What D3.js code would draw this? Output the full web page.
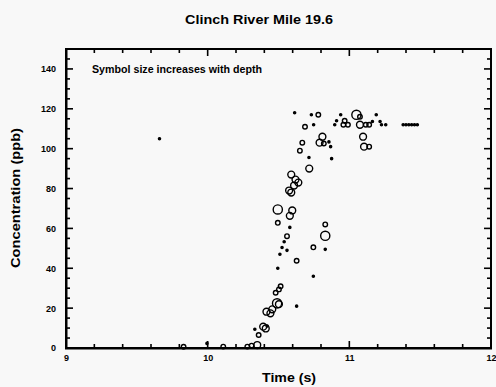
<!DOCTYPE html>
<html>
<head>
<meta charset="utf-8">
<script src="https://cdn.jsdelivr.net/npm/d3@7"></script>
<style>
body { margin: 0; background: #f8f8f8; }
svg { display: block; font-family: "Liberation Sans", Arial, sans-serif; font-weight: bold; }
</style>
</head>
<body>
<script>
// Zeit (s)
var time = [9.66, 9.83, 9.995, 10.11, 10.28, 10.31, 10.35, 10.333, 10.36, 10.392,
  10.41, 10.42, 10.415, 10.456, 10.443, 10.49, 10.503, 10.48, 10.503, 10.515,
  10.495, 10.51, 10.525, 10.54, 10.56, 10.56, 10.58, 10.495, 10.495, 10.597,
  10.58, 10.628, 10.628, 10.746, 10.746, 10.83, 10.83, 10.83, 10.59, 10.62,
  10.64, 10.61, 10.59, 10.575, 10.717, 10.715, 10.651, 10.668, 10.687, 10.748,
  10.614, 10.732, 10.781, 10.81, 10.79, 10.82, 10.856, 10.868, 10.875, 10.939,
  10.91, 10.897, 10.967, 10.958, 10.99, 11.05, 11.075, 11.075, 11.116, 11.14,
  11.163, 11.19, 11.217, 11.227, 11.257, 11.097, 11.104, 11.14,
  11.38, 11.40, 11.42, 11.44, 11.46, 11.48];
// Konzentration (ppb)
var conc = [105, 0.6, 2.3, 0.7, 0.7, 1.2, 1.5, 9.4, 6.5, 10.7,
  9.8, 11, 18.2, 19.4, 17.4, 22.4, 22, 27.7, 29.4, 31,
  40, 47, 50.4, 53.3, 49, 56.1, 60.5, 62.8, 69.5, 69,
  66.3, 43.8, 21, 50.5, 36, 62, 56.3, 49.5, 87, 84.5,
  83, 81.5, 78, 79, 90, 95.6, 99, 103, 111, 112,
  118, 117, 117, 106, 103, 102.6, 103.4, 101, 95, 117,
  114, 112, 114, 112, 112, 117, 116, 112, 112, 112,
  113.6, 117, 113.6, 112, 112, 106, 101, 101,
  112, 112, 112, 112, 112, 112];
// Tiefe (Symbolgroesse, 1 = flach ... 4 = tief)
var depth = [1, 2, 1, 2, 2, 2, 3, 1, 2, 3,
  3, 1, 3, 3, 3, 4, 3, 2, 2, 2,
  1, 1, 1, 1, 1, 2, 1, 2, 4, 3,
  3, 2, 1, 2, 1, 2, 4, 1, 3, 3,
  3, 3, 3, 3, 3, 1, 2, 2, 2, 1,
  1, 1, 2, 3, 3, 2, 1, 1, 1, 1,
  1, 1, 2, 2, 2, 4, 2, 3, 2, 2,
  1, 1, 1, 1, 1, 3, 3, 2,
  1, 1, 1, 1, 1, 1];

var xTicks = [9, 10, 11, 12];
var yTicks = [0, 20, 40, 60, 80, 100, 120, 140];

var margin = {top: 49, right: 5, bottom: 39, left: 66}
, width = 496 - margin.left - margin.right
, height = 387 - margin.top - margin.bottom;

var xScale = d3.scaleLinear().domain([9, 12]).range([0, width]);
var yScale = d3.scaleLinear().domain([0, 150]).range([height, 0]);
var rScale = d3.scaleLinear().domain([1, 4]).range([1.1, 4.6]);

var root = d3.select("body").append("svg")
.attr("width", 496)
.attr("height", 387);

// Titel
root.append("text")
.attr("x", 259).attr("y", 24)
.attr("text-anchor", "middle")
.attr("font-size", 13)
.attr("textLength", 148).attr("lengthAdjust", "spacingAndGlyphs")
.text("Clinch River Mile 19.6");

var svg = root.append("g")
.attr("transform", "translate(" + margin.left + "," + margin.top + ")");

// Beschriftung der Achsen (nur Text)
svg.append("g")
.attr("transform", "translate(0," + height + ")")
.call(d3.axisBottom(xScale).tickValues(xTicks).tickSize(0).tickPadding(7).tickFormat(d3.format("d")));
svg.append("g")
.call(d3.axisLeft(yScale).tickValues(yTicks).tickSize(0).tickPadding(10).tickFormat(d3.format("d")));
svg.selectAll(".domain").remove();
svg.selectAll(".tick text").attr("font-size", 9).attr("font-weight", "bold").attr("font-family", "Liberation Sans, Arial, sans-serif");

// Ticks nach innen, auf allen vier Seiten (als gefuellte Rechtecke)
var minorX = d3.range(9, 12.001, 0.2);
var minorY = d3.range(0, 150.001, 5);
var isMajorX = (d) => Math.abs(d - Math.round(d)) < 1e-6;
var isMajorY = (d) => d % 20 == 0;
var ticks = svg.append("g").attr("fill", "#000");

ticks.selectAll(null).data(minorX).enter().append("rect")
.attr("x", (d) => xScale(d) - 0.8).attr("width", 1.6)
.attr("y", (d) => height - (isMajorX(d) ? 7 : 4)).attr("height", (d) => (isMajorX(d) ? 7 : 4));
ticks.selectAll(null).data(minorX).enter().append("rect")
.attr("x", (d) => xScale(d) - 0.8).attr("width", 1.6)
.attr("y", 0).attr("height", (d) => (isMajorX(d) ? 7 : 4));
ticks.selectAll(null).data(minorY).enter().append("rect")
.attr("y", (d) => yScale(d) - 0.8).attr("height", 1.6)
.attr("x", 0).attr("width", (d) => (isMajorY(d) ? 7 : 4));
ticks.selectAll(null).data(minorY).enter().append("rect")
.attr("y", (d) => yScale(d) - 0.8).attr("height", 1.6)
.attr("x", (d) => width - (isMajorY(d) ? 7 : 4)).attr("width", (d) => (isMajorY(d) ? 7 : 4));

// Rahmen (vier Balken)
var frame = svg.append("g").attr("fill", "#000");
frame.append("rect").attr("x", -1).attr("y", -1).attr("width", width + 2).attr("height", 2);
frame.append("rect").attr("x", -1).attr("y", height - 1).attr("width", width + 2).attr("height", 2.5);
frame.append("rect").attr("x", -1).attr("y", -1).attr("width", 2.5).attr("height", height + 2);
frame.append("rect").attr("x", width - 1).attr("y", -1).attr("width", 2).attr("height", height + 2);

// Hinweis
svg.append("text")
.attr("x", 26).attr("y", 24)
.attr("font-size", 10)
.attr("textLength", 170).attr("lengthAdjust", "spacingAndGlyphs")
.text("Symbol size increases with depth");

// Punkte
svg.selectAll("circle.pt")
.data(time)
.enter().append("circle")
.attr("class", "pt")
.attr("cx", (d) => xScale(d))
.attr("cy", (d, i) => yScale(conc[i]))
.attr("r", (d, i) => rScale(depth[i]))
.attr("fill", (d, i) => depth[i] == 1 ? "#000" : "none")
.attr("stroke", "#000")
.attr("stroke-width", 1.4);

// Achsentitel
root.append("text")
.attr("x", 289).attr("y", 382)
.attr("text-anchor", "middle")
.attr("font-size", 12)
.attr("textLength", 54).attr("lengthAdjust", "spacingAndGlyphs")
.text("Time (s)");

root.append("text")
.attr("transform", "translate(20,198) rotate(-90)")
.attr("text-anchor", "middle")
.attr("font-size", 12)
.attr("textLength", 140).attr("lengthAdjust", "spacingAndGlyphs")
.text("Concentration (ppb)");
</script>
</body>
</html>
